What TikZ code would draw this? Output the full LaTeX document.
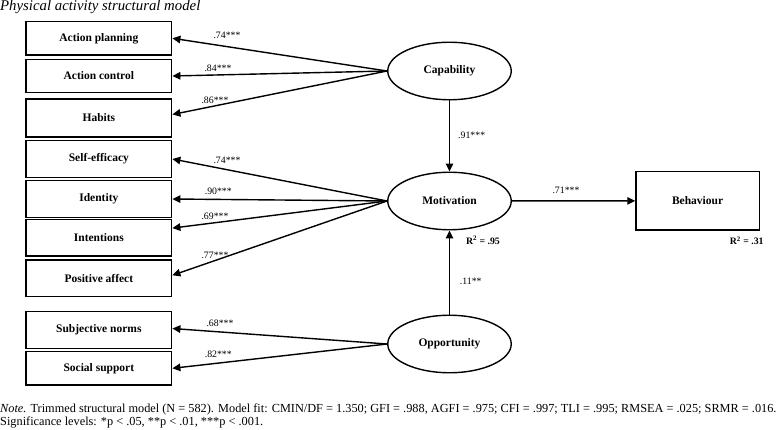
\documentclass[tikz,border=0pt]{standalone}
\usepackage{fontspec}
\setmainfont{Liberation Serif}
\usetikzlibrary{arrows.meta,shapes.geometric}
\begin{document}
\begin{tikzpicture}[x=1pt,y=-1pt,
  box/.style={draw,line width=1.4pt,minimum width=145.7pt,inner sep=0pt,font=\fontsize{11.5}{12}\selectfont\bfseries},
  lat/.style={draw,ellipse,line width=1.4pt,minimum width=123.5pt,minimum height=57.5pt,inner sep=0pt,font=\fontsize{11.5}{12}\selectfont\bfseries},
  arr/.style={line width=1.4pt,-{Triangle[length=8pt,width=7.5pt]}},
  coef/.style={font=\fontsize{9.8}{11}\selectfont,inner sep=0pt},
  rsq/.style={font=\fontsize{9.8}{11}\selectfont\bfseries,inner sep=0pt},
  note/.style={font=\fontsize{12.3}{13}\selectfont,inner sep=0pt,anchor=west},
]
\useasboundingbox (0,0) rectangle (778,430);
% title
\node[font=\fontsize{14.8}{16}\selectfont\itshape,inner sep=0pt,anchor=west] (title) at (0,7) {Physical activity structural model};
% observed boxes
\node[box,minimum height=33.3pt] (ap) at (98.85,38.3) {Action planning};
\node[box,minimum height=33.4pt] (ac) at (98.85,76) {Action control};
\node[box,minimum height=38pt] (ha) at (98.85,118) {Habits};
\node[box,minimum height=36.6pt] (se) at (98.85,159) {Self-efficacy};
\node[box,minimum height=36.6pt] (id) at (98.85,199) {Identity};
\node[box,minimum height=36.7pt] (int) at (98.85,237.6) {Intentions};
\node[box,minimum height=36.7pt] (pa) at (98.85,278.3) {Positive affect};
\node[box,minimum height=36.6pt] (sn) at (98.85,330) {Subjective norms};
\node[box,minimum height=33.3pt] (ss) at (98.85,368.3) {Social support};
% latent
\node[lat] (cap) at (449.5,71) {Capability};
\node[lat] (mot) at (449.5,201) {Motivation};
\node[lat] (opp) at (449.5,344) {Opportunity};
\node[box,minimum width=123.3pt,minimum height=58.3pt] (beh) at (697.6,200.8) {Behaviour};
% arrows
\draw[arr] (cap.west) -- (ap.east);
\draw[arr] (cap.west) -- (ac.east);
\draw[arr] (cap.west) -- ([yshift=3.5pt]ha.east);
\draw[arr] (mot.west) -- (se.east);
\draw[arr] (mot.west) -- (id.east);
\draw[arr] (mot.west) -- ([yshift=9.5pt]int.east);
\draw[arr] (mot.west) -- ([yshift=3pt]pa.east);
\draw[arr] (opp.west) -- ([yshift=1.5pt]sn.east);
\draw[arr] (opp.west) -- (ss.east);
\draw[arr] (cap) -- (mot);
\draw[arr] (opp) -- (mot);
\draw[arr] (mot) -- (beh);
% coefficient labels
\node[coef] (l1) at (227,35) {.74***};
\node[coef] (l2) at (218,68) {.84***};
\node[coef] (l3) at (215,100) {.86***};
\node[coef] (l4) at (227,160.7) {.74***};
\node[coef] (l5) at (218.3,191) {.90***};
\node[coef] (l6) at (215,216) {.69***};
\node[coef] (l7) at (215,255) {.77***};
\node[coef] (l8) at (220,323.3) {.68***};
\node[coef] (l9) at (218.3,354) {.82***};
\node[coef] (l10) at (471.7,135) {.91***};
\node[coef] (l11) at (566,190.7) {.71***};
\node[coef] (l12) at (470.7,281) {.11**};
\node[rsq] (r1) at (483,240) {R\textsuperscript{2} = .95};
\node[rsq] (r2) at (746.7,240.7) {R\textsuperscript{2} = .31};
% note
\node[note] (n1) at (0,409) {\textit{Note.} Trimmed structural model (N = 582). Model fit: CMIN/DF = 1.350; GFI = .988, AGFI = .975; CFI = .997; TLI = .995; RMSEA = .025; SRMR = .016.};
\node[note] (n2) at (0,422.5) {Significance levels: *p < .05, **p < .01, ***p < .001.};
\end{tikzpicture}
\end{document}
